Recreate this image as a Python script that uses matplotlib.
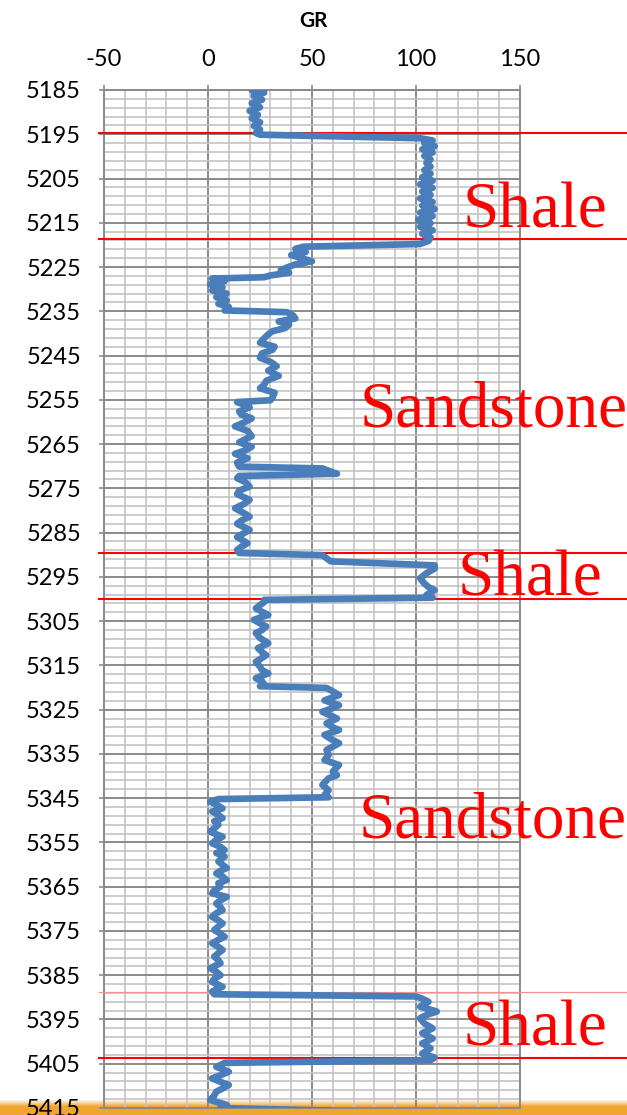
import numpy as np
import matplotlib.pyplot as plt
import matplotlib.transforms as mtransforms

# GR log (depth in ft, GR in API)
depth = [
    # 5185-5195
    5185.0, 5185.6, 5186.3, 5187.2, 5188.0, 5188.9, 5189.7, 5190.6, 5191.4, 5192.3,
    5193.1, 5193.9, 5194.7, 5195.1, 5195.9,
    # shale 5196-5219
    5196.4, 5197.0, 5197.7, 5198.4, 5199.1, 5199.9, 5200.7, 5201.5, 5202.3, 5203.1,
    5203.9, 5204.7, 5205.5, 5206.3, 5207.1, 5207.9, 5208.7, 5209.5, 5210.3, 5211.1,
    5211.9, 5212.7, 5213.5, 5214.3, 5215.1, 5215.9, 5216.7, 5217.5, 5218.3, 5219.1,
    5219.8, 5220.4,
    # 5220-5235
    5220.9, 5221.6, 5222.3, 5223.0, 5223.7, 5224.4, 5225.1, 5225.7, 5226.3, 5226.9,
    5227.3, 5227.6, 5228.2, 5228.9, 5229.6, 5230.3, 5231.0, 5231.8, 5232.5, 5233.3,
    5234.0, 5234.8, 5235.2,
    # 5235-5255
    5236.0, 5236.6, 5237.3, 5238.0, 5238.8, 5239.5, 5240.2, 5241.1, 5242.1, 5243.0,
    5243.7, 5244.5, 5245.5, 5246.4, 5247.4, 5248.4, 5249.6, 5250.7, 5251.6, 5252.4,
    5253.4, 5254.5, 5255.1, 5255.5,
    # 5255-5290
    5256.2, 5256.7, 5257.6, 5258.3, 5259.2, 5260.2, 5261.0, 5262.0, 5263.2, 5264.6,
    5265.6, 5266.4, 5267.2, 5268.2, 5269.2, 5270.1, 5270.5, 5271.7, 5272.2,
    5272.7, 5273.6, 5274.6, 5275.5, 5276.3, 5277.6, 5278.6, 5279.5, 5280.5, 5281.4,
    5282.3, 5283.0, 5284.4, 5285.2, 5286.0, 5287.4, 5288.2, 5288.9, 5289.6,
    5290.1, 5291.5, 5292.4,
    # shale 5292-5300
    5293.1, 5294.2, 5295.3, 5296.5, 5297.3, 5298.0, 5299.1, 5299.7, 5300.2,
    # 5300-5320
    5300.7, 5301.4, 5302.1, 5302.9, 5303.6, 5304.7, 5305.5, 5306.2, 5307.0, 5307.7,
    5308.8, 5310.0, 5311.1, 5312.0, 5312.7, 5314.2, 5315.3, 5316.1, 5316.8, 5317.9,
    5318.6, 5319.3, 5319.7, 5320.1,
    # 5320-5345
    5320.6, 5321.7, 5322.9, 5324.0, 5324.8, 5325.5, 5327.0, 5328.1, 5329.0, 5329.6,
    5330.7, 5331.6, 5332.6, 5334.1, 5335.2, 5336.4, 5337.5, 5339.0, 5339.8, 5340.5,
    5342.0, 5343.2, 5344.3, 5344.8, 5345.2, 5345.8,
    # 5346-5389
    5346.2, 5347.3, 5348.0, 5348.8, 5349.5, 5350.2, 5351.0, 5351.8, 5352.6, 5353.7,
    5354.4, 5355.2, 5356.0, 5356.7, 5357.4, 5358.2, 5359.3, 5360.8, 5361.4, 5362.0,
    5362.7, 5363.5, 5364.2, 5365.0, 5365.8, 5366.5, 5367.3, 5368.1, 5368.8, 5369.6,
    5370.3, 5371.0, 5371.8, 5372.6, 5373.3, 5374.0, 5374.8, 5375.6, 5376.3, 5377.0,
    5377.8, 5378.6, 5379.3, 5380.0, 5380.8, 5381.6, 5382.3, 5383.4, 5384.2, 5385.0,
    5385.8, 5386.5, 5387.6, 5388.2, 5388.7, 5389.3, 5389.8, 5390.3,
    # shale 5390-5404
    5391.0, 5392.1, 5393.2, 5394.0, 5394.7, 5395.9, 5397.0, 5398.1, 5399.3, 5400.4,
    5401.5, 5402.7, 5403.6, 5404.2, 5404.8, 5405.3,
    # 5405-5415
    5405.7, 5406.8, 5407.6, 5408.3, 5409.1, 5409.8, 5410.6, 5411.3, 5412.2, 5413.2,
    5414.3, 5415.0, 5415.6,
]

gr = [
    21, 27, 22, 26, 21, 25, 20, 24, 21, 25,
    22, 25, 23, 25, 102,
    108, 104, 109, 103, 108, 104, 107, 105, 107, 104,
    107, 103, 108, 102, 108, 103, 107, 102, 108, 103,
    109, 102, 108, 101, 107, 102, 108, 103, 107, 106,
    102, 46,
    42, 47, 40, 45, 50, 42, 38, 35, 39, 30,
    27, 2, 8, 1, 7, 2, 9, 4, 9, 5,
    10, 8, 38,
    41, 42, 34, 39, 37, 31, 29, 27, 25, 32,
    31, 26, 25, 30, 33, 29, 34, 28, 27, 25,
    32, 31, 30, 14,
    18, 20, 15, 16, 21, 17, 13, 19, 21, 15,
    21, 18, 13, 19, 14, 15, 55, 62, 15,
    14, 18, 20, 15, 14, 20, 17, 13, 17, 20,
    16, 14, 20, 17, 14, 19, 16, 14, 15,
    55, 59, 109,
    109, 105, 102, 104, 106, 109, 105, 108, 27,
    27, 25, 23, 26, 29, 22, 25, 28, 26, 23,
    25, 29, 24, 26, 28, 23, 25, 26, 29, 23,
    26, 27, 25, 57,
    59, 63, 56, 63, 59, 55, 62, 57, 60, 63,
    56, 59, 63, 57, 58, 56, 63, 60, 62, 58,
    55, 58, 56, 58, 5, 1,
    3, 7, 2, 5, 7, 3, 5, 3, 1, 7,
    4, 2, 6, 8, 4, 8, 5, 9, 6, 4,
    7, 9, 5, 6, 3, 2, 9, 6, 4, 6,
    7, 4, 2, 5, 7, 5, 3, 6, 8, 5,
    2, 5, 7, 5, 3, 5, 6, 1, 4, 6,
    3, 2, 7, 4, 2, 3, 100, 103,
    106, 102, 110, 105, 102, 104, 108, 103, 108, 103,
    107, 103, 109, 107, 8, 6,
    4, 10, 6, 2, 6, 10, 7, 4, 3, 1,
    9, 6, 60,
]

# lithology boundaries (red lines) and labels
boundaries = [5194.8, 5218.7, 5289.7, 5299.9, 5388.9, 5403.6]
labels = ['Shale', 'Sandstone', 'Shale', 'Sandstone', 'Shale']

W, H = 627, 1115
plt.rcParams['font.family'] = ['Lato', 'DejaVu Sans']
plt.rcParams['axes.unicode_minus'] = False
fig = plt.figure(figsize=(W / 100, H / 100), dpi=100)

# orange band at the bottom of the slide
bg = fig.add_axes([0, 0, 1, 16 / H], zorder=0)
orange = np.array([0.94, 0.65, 0.19])
band = np.ones((16, 1, 3))
for i in range(16):
    t = min(max((i - 8) / 7, 0), 1)
    band[i, 0] = orange * (1 - t) + np.array([1, 1, 1]) * t
bg.imshow(band, aspect='auto', origin='lower', extent=[0, 1, 0, 1])
bg.axis('off')

ax = fig.add_axes([104 / W, 1 - 1108 / H, 416 / W, 1018 / H], zorder=1)
ax.set_facecolor('none')

ax.plot(gr, depth, color='#4A7EBB', lw=4.8, solid_joinstyle='round',
        solid_capstyle='round', zorder=4)

trans = mtransforms.blended_transform_factory(ax.transAxes, ax.transData)
for i, b in enumerate(boundaries):
    if i == 4:
        ax.plot([-0.012, 1.3], [b, b], transform=trans, color='#F39090',
                lw=0.9, clip_on=False, zorder=3)
    else:
        ax.plot([-0.012, 1.3], [b, b], transform=trans, color='#FF0000',
                lw=1.5, clip_on=False, zorder=3)

ax.set_xlim(-50, 150)
ax.set_ylim(5415, 5185)
ax.set_xticks([-50, 0, 50, 100, 150])
ax.set_xticks(np.arange(-50, 151, 10), minor=True)
ax.set_yticks(np.arange(5185, 5416, 10))
ax.set_yticks(np.arange(5185, 5416, 2), minor=True)
ax.xaxis.tick_top()
ax.set_axisbelow(True)
ax.grid(which='major', color='#8a8a8a', lw=1.4)
ax.grid(which='minor', color='#c3c3c3', lw=1.2)
ax.tick_params(which='major', direction='out', length=3.6, width=1.2,
               color='#8a8a8a', labelsize=17)
ax.tick_params(axis='x', pad=11)
ax.tick_params(axis='y', pad=13)
ax.tick_params(which='minor', length=0)
for s in ax.spines.values():
    s.set_color('#8a8a8a')
    s.set_linewidth(1.4)

fig.text(313 / W, 1 - 27 / H, 'GR', ha='center', va='baseline',
         fontsize=15, fontweight='bold')

# label positions in pixels (left, baseline)
label_pos = [(463, 228), (360, 426), (458, 595), (359, 838), (463, 1045)]
for txt, (px, py) in zip(labels, label_pos):
    fig.text(px / W, 1 - py / H, txt, ha='left', va='baseline', color='#FF0000',
             fontsize=47, family='Liberation Serif', zorder=10)

fig.savefig('out.png', dpi=100)
